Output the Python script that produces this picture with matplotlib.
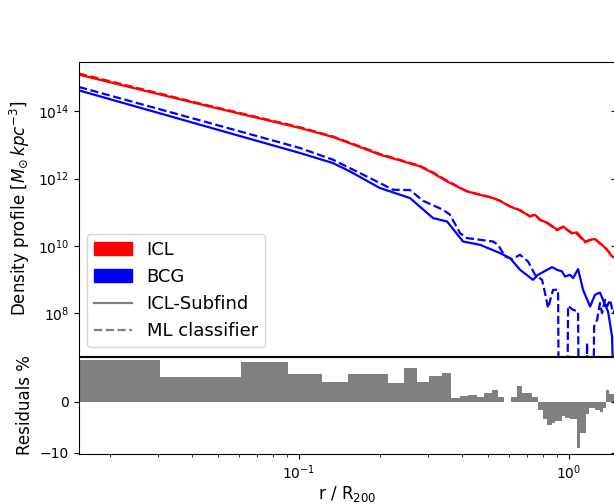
import numpy as np
import matplotlib
matplotlib.use("Agg")
import matplotlib.pyplot as plt
from matplotlib.patches import Patch
from matplotlib.lines import Line2D
from matplotlib.ticker import NullLocator, FixedLocator, LogFormatterSciNotation

# ---------------- data (r in units of R200) ----------------
r_icl = [0.01532, 0.04298, 0.1009, 0.1336, 0.1786, 0.1995, 0.2366, 0.2806, 0.3135, 0.3533,
         0.4190, 0.4682, 0.5230, 0.5553, 0.6046, 0.6584, 0.7170, 0.7484, 0.7808, 0.8360,
         0.9028, 0.9502, 1.026, 1.070, 1.146, 1.196, 1.248, 1.325, 1.382, 1.443, 1.480]
icl_subfind = [1.236e15, 1.638e14, 3.206e13, 1.730e13, 7.244e12, 5.140e12, 3.483e12, 2.307e12,
               1.468e12, 8.26e11, 4.16e11, 3.32e11, 2.65e11, 2.17e11, 1.489e11, 1.132e11,
               7.50e10, 8.43e10, 5.98e10, 4.78e10, 3.02e10, 3.78e10, 2.40e10, 2.51e10,
               1.352e10, 1.520e10, 1.593e10, 1.079e10, 7.66e9, 4.84e9, 4.43e9]
icl_ml = [1.34e15, 1.72e14, 3.38e13, 1.80e13, 7.63e12, 5.42e12, 3.61e12, 2.40e12,
          1.54e12, 8.72e11, 4.21e11, 3.35e11, 2.71e11, 2.19e11, 1.489e11, 1.167e11,
          7.64e10, 8.51e10, 5.88e10, 4.56e10, 2.91e10, 3.67e10, 2.32e10, 2.28e10,
          1.27e10, 1.48e10, 1.57e10, 1.056e10, 7.84e9, 4.92e9, 4.50e9]

r_bcg = [0.01532, 0.04298, 0.1009, 0.1336, 0.1545, 0.1995, 0.2577, 0.3135, 0.3533, 0.4049,
         0.4682, 0.5553, 0.6046, 0.6584, 0.7356, 0.7676, 0.8650, 0.9028, 0.9421, 0.9665,
         1.0085, 1.035, 1.080, 1.127, 1.196, 1.248, 1.302, 1.359, 1.395, 1.443, 1.480]
bcg_subfind = [4.22e14, 4.02e13, 5.78e12, 2.91e12, 1.637e12, 5.25e11, 2.65e11, 6.72e10,
               5.32e10, 1.352e10, 1.079e10, 6.11e9, 4.34e9, 1.945e9, 9.80e8, 1.380e9,
               2.34e9, 1.945e9, 1.730e9, 1.227e9, 1.380e9, 1.102e9, 2.04e9, 4.93e8,
               1.570e8, 3.51e8, 4.10e8, 1.766e8, 1.117e8, 2.01e7, 1.0e4]

r_bcg_ml = [0.01532, 0.04298, 0.1009, 0.1336, 0.1995, 0.2229, 0.2577, 0.2879, 0.3415, 0.3625,
            0.3947, 0.4190, 0.4682, 0.5230, 0.5458, 0.5794, 0.6151, 0.6584, 0.7048, 0.7484,
            0.7943, 0.8148, 0.8360, 0.8723, 0.9105, 0.9183, 0.9831, 0.9915, 1.035, 1.080,
            1.089, 1.156, 1.166, 1.176, 1.227, 1.238, 1.270, 1.302, 1.325, 1.359,
            1.382, 1.419, 1.455, 1.480]
bcg_ml = [5.32e14, 5.43e13, 8.15e12, 3.66e12, 7.40e11, 4.68e11, 4.58e11, 2.20e11, 1.186e11, 8.43e10,
          2.40e10, 1.706e10, 1.520e10, 1.352e10, 1.079e10, 4.84e9, 4.05e9, 5.43e9, 3.44e9, 1.380e9,
          9.80e8, 3.94e8, 1.409e8, 4.93e8, 4.93e8, 1.0e4, 1.0e4, 1.648e8, 1.254e8, 1.117e8,
          1.0e4, 1.0e4, 1.306e7, 1.0e4, 1.0e4, 3.99e7, 6.32e7, 1.987e8, 1.0e8, 2.49e8,
          1.570e8, 2.49e8, 1.0e8, 1.254e8]

res_edges = [0.01532, 0.03056, 0.06082, 0.09129, 0.1220, 0.1523, 0.2142, 0.2455, 0.2742, 0.3039,
             0.3377, 0.3646, 0.3957, 0.4236, 0.4549, 0.4857, 0.5172, 0.5470, 0.5759, 0.6082,
             0.6401, 0.6680, 0.7276, 0.7657, 0.8030, 0.8309, 0.8628, 0.8872, 0.9397, 0.9665,
             1.0085, 1.068, 1.098, 1.156, 1.189, 1.248, 1.302, 1.340, 1.368, 1.410, 1.486]
residuals = [8.2, 4.9, 7.7, 5.4, 3.9, 5.4, 3.6, 6.7, 3.9, 5.1,
             5.6, 0.8, 1.1, 1.3, 0.85, 1.8, 2.3, 1.0, 0.0, 1.0,
             3.1, 1.8, 1.0, -1.6, -3.3, -4.6, -4.1, -3.8, -2.9, -3.1,
             -3.4, -9.1, -6.1, -2.5, -1.3, -1.6, -2.1, -1.3, 2.3, 1.6]

density_ticks = [1e8, 1e10, 1e12, 1e14]
residual_ticks = [-10, 0]
legend_labels = ["ICL", "BCG", "ICL-Subfind", "ML classifier"]

# ---------------- figure ----------------
W, H = 614, 504
fig = plt.figure(figsize=(W / 100, H / 100), dpi=100)
left = 79 / W
width = (615.5 - 79) / W
ax1 = fig.add_axes([left, (H - 355.5) / H, width, (355.5 - 62) / H])
ax2 = fig.add_axes([left, (H - 454) / H, width, (454 - 357) / H], sharex=ax1)

# neighbouring panels (only their ticks are visible at the right edge)
nb1 = fig.add_axes([616 / W, (H - 355.5) / H, 0.5, (355.5 - 62) / H])
nb2 = fig.add_axes([616 / W, (H - 454) / H, 0.5, (454 - 357) / H])

lw = 1.6
ax1.plot(r_icl, icl_subfind, color="red", lw=lw, ls="-")
ax1.plot(r_icl, icl_ml, color="red", lw=lw, ls="--")
ax1.plot(r_bcg, bcg_subfind, color="blue", lw=lw, ls="-")
ax1.plot(r_bcg_ml, bcg_ml, color="blue", lw=lw, ls="--")

ax1.set_xscale("log")
ax1.set_yscale("log")
ax1.set_xlim(0.01532, 1.486)
ylo, yhi = 10 ** 6.74, 10 ** 15.47
ax1.set_ylim(ylo, yhi)
ax1.yaxis.set_major_locator(FixedLocator(density_ticks))
ax1.yaxis.set_major_formatter(LogFormatterSciNotation())
ax1.yaxis.set_minor_locator(NullLocator())
ax1.tick_params(labelbottom=False, labelsize=10)
ax1.set_ylabel(r"Density profile [$M_{\odot}\,kpc^{-3}$]", fontsize=12)

handles = [Patch(color="red", label=legend_labels[0]),
           Patch(color="blue", label=legend_labels[1]),
           Line2D([], [], color="gray", lw=lw, ls="-", label=legend_labels[2]),
           Line2D([], [], color="gray", lw=lw, ls="--", label=legend_labels[3])]
ax1.legend(handles=handles, loc="lower left", fontsize=13,
           bbox_to_anchor=(0.0, 0.0), borderaxespad=0.45, handlelength=2.1)

ax2.stairs(residuals, res_edges, fill=True, color="gray", baseline=0)
ax2.set_ylim(-10.25, 8.76)
ax2.set_yticks(residual_ticks)
ax2.tick_params(labelsize=10)
ax2.set_ylabel("Residuals %", fontsize=12)
ax2.set_xlabel(r"r / R$_{200}$", fontsize=12, labelpad=1)

nb1.set_yscale("log")
nb1.set_ylim(ylo, yhi)
nb1.yaxis.set_major_locator(FixedLocator(density_ticks))
nb1.yaxis.set_minor_locator(NullLocator())
nb2.set_ylim(-10.25, 8.76)
nb2.set_yticks(residual_ticks)
for nb in (nb1, nb2):
    nb.tick_params(labelleft=False, labelbottom=False, bottom=False)

fig.savefig("out.png", dpi=100)
